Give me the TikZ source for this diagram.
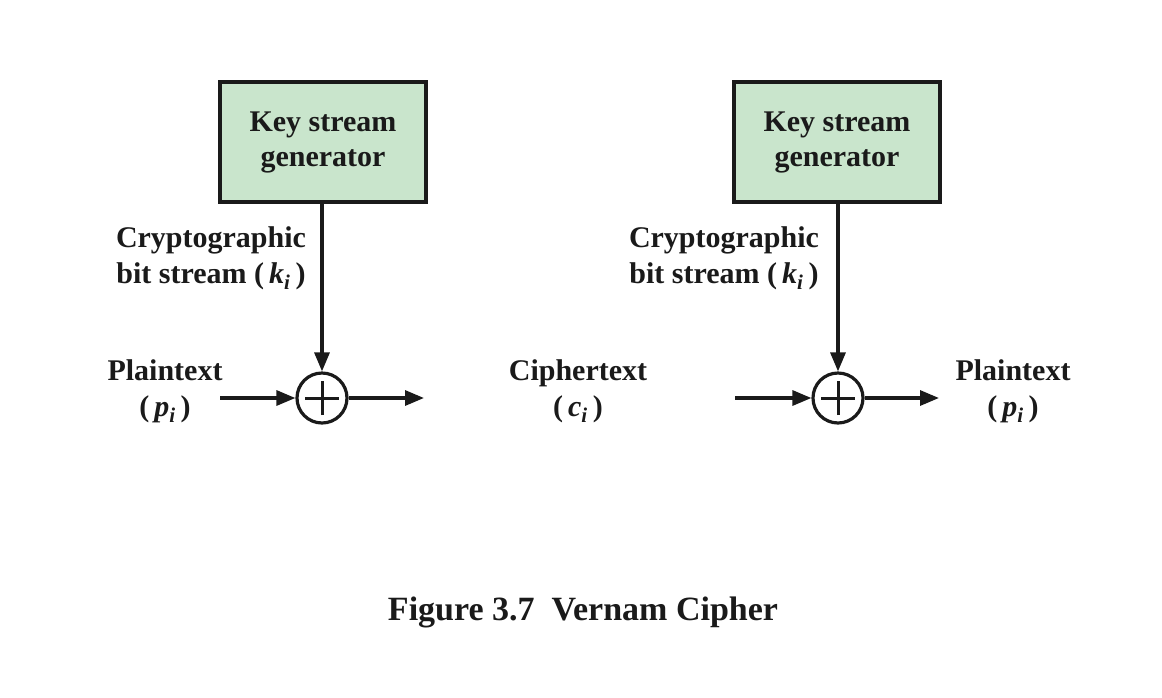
\documentclass[tikz,border=0pt]{standalone}
\usepackage{fontspec}
\setmainfont{Liberation Serif}
\usetikzlibrary{arrows.meta}
\definecolor{boxgreen}{HTML}{C9E5CC}
\definecolor{ink}{HTML}{1A1A1A}
\tikzset{
  genbox/.style={draw=ink, line width=3.2pt, fill=boxgreen, minimum width=206pt, minimum height=120pt, inner sep=0pt, align=center, font=\fontsize{30}{35}\selectfont\bfseries, text=ink},
  xorc/.style={draw=ink, circle, line width=3.2pt, minimum size=50pt, inner sep=0pt},
  lbl/.style={align=center, font=\fontsize{30}{36}\selectfont\bfseries, text=ink, inner sep=0pt},
  flow/.style={draw=ink, line width=3.2pt, -{Triangle[length=19pt,width=15pt]}},
  plusline/.style={draw=ink, line width=3pt}
}
\newcommand{\sub}[2]{(\,\textit{#1}\textsubscript{\textit{#2}}\,)}
\begin{document}
\begin{tikzpicture}[x=1pt,y=-1pt]
\useasboundingbox (0,0) rectangle (1162,697);
% left
\node[genbox] (g1) at (323,142) {Key stream\\generator};
\node[xorc] (x1) at (322,398) {};
\draw[plusline] ([xshift=-17pt]x1.center) -- ([xshift=17pt]x1.center);
\draw[plusline] ([yshift=-17pt]x1.center) -- ([yshift=17pt]x1.center);
\coordinate (in1) at (220,398);
\coordinate (out1) at (424,398);
\draw[flow] (g1.south -| x1) -- (x1.north);
\draw[flow] (in1) -- (x1.west);
\draw[flow] (x1.east) -- (out1);
\node[lbl] (c1) at (211,258) {Cryptographic\\bit stream \sub{k}{i}};
\node[lbl] (p1) at (165,391) {Plaintext\\\sub{p}{i}};
% middle
\node[lbl] (ct) at (578,391) {Ciphertext\\\sub{c}{i}};
% right
\node[genbox] (g2) at (837,142) {Key stream\\generator};
\node[xorc] (x2) at (838,398) {};
\draw[plusline] ([xshift=-17pt]x2.center) -- ([xshift=17pt]x2.center);
\draw[plusline] ([yshift=-17pt]x2.center) -- ([yshift=17pt]x2.center);
\coordinate (in2) at (735,398);
\coordinate (out2) at (939,398);
\draw[flow] (g2.south -| x2) -- (x2.north);
\draw[flow] (in2) -- (x2.west);
\draw[flow] (x2.east) -- (out2);
\node[lbl] (c2) at (724,258) {Cryptographic\\bit stream \sub{k}{i}};
\node[lbl] (p2) at (1013,391) {Plaintext\\\sub{p}{i}};
% caption
\node[lbl, font=\fontsize{34}{38}\selectfont\bfseries] (cap) at (583,612) {Figure 3.7\enspace Vernam Cipher};
\end{tikzpicture}
\end{document}
